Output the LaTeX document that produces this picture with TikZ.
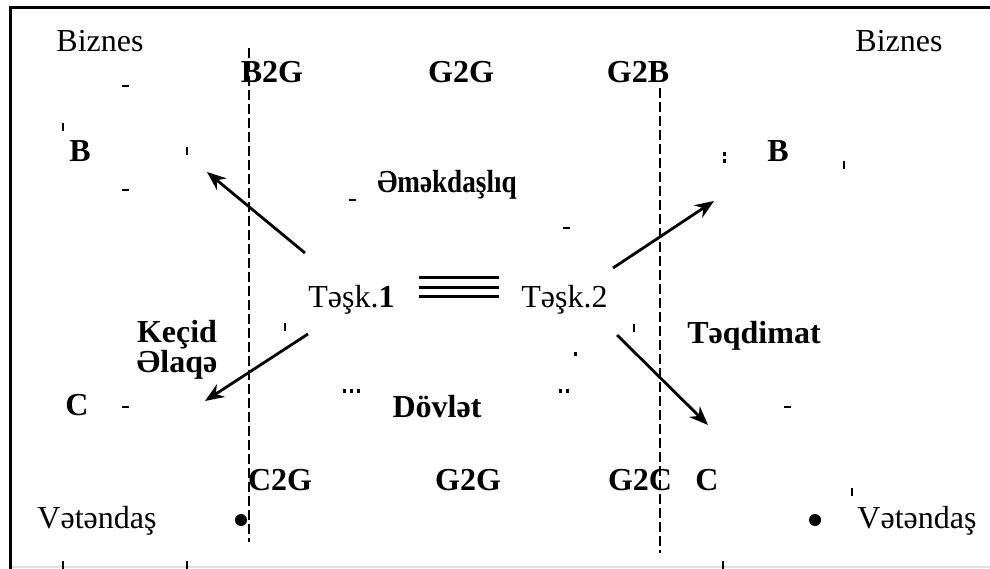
\documentclass[tikz,border=0pt]{standalone}
\usepackage{fontspec}
\setmainfont{Liberation Serif}
\usetikzlibrary{arrows.meta}

\begin{document}
\begin{tikzpicture}[x=1pt,y=-1pt,
  lbl/.style={inner sep=0pt,anchor=base,font=\fontsize{32}{38}\selectfont},
  blbl/.style={lbl,font=\fontsize{32}{38}\selectfont\bfseries},
  arr/.style={-{Stealth[length=19pt,width=15pt]},line width=2.8pt},
  sep/.style={line width=1.5pt,dash pattern=on 10pt off 4pt},
  speck/.style={line width=2.4pt},
  triple/.style={line width=3pt}]
\useasboundingbox (0,0) rectangle (990,569);
\draw[black!12,line width=1.5pt] (10,567) -- (990,567);
\draw[line width=3pt] (10,569) -- (10,8) -- (990,8);

\node[lbl] (biznesL) at (100,52) {Biznes};
\node[lbl] (biznesR) at (899,52) {Biznes};
\node[blbl] (b2g) at (272,83) {B2G};
\node[blbl] (g2gT) at (461,83) {G2G};
\node[blbl] (g2b) at (638,83) {G2B};
\node[blbl] (bL) at (80,162) {B};
\node[blbl] (bR) at (778,162) {B};
\node[blbl] (emek) at (447,193) {\scalebox{0.85}[1]{Əməkdaşlıq}};
\node[lbl] (task1) at (351.5,307) {Təşk.\textbf{1}};
\node[lbl] (task2) at (564.5,307) {Təşk.2};
\node[blbl] (kecid) at (177,342) {Keçid};
\node[blbl] (elaqe) at (177,372) {Əlaqə};
\node[blbl] (teqdimat) at (754,343) {Təqdimat};
\node[blbl] (cL) at (77,415) {C};
\node[blbl] (dovlet) at (437,417) {Dövlət};
\node[blbl] (c2g) at (280,490) {C2G};
\node[blbl] (g2gB) at (468,490) {G2G};
\node[blbl] (g2c) at (640,490) {G2C};
\node[blbl] (cR) at (707,490) {C};
\node[lbl] (vetL) at (97,528) {Vətəndaş};
\node[lbl] (vetR) at (917,528) {Vətəndaş};

\draw[sep] (249,48) -- (249,542);
\draw[sep] (660,88) -- (660,553);

\coordinate (fromT1up) at (305,253);
\coordinate (toB1) at (207,172);
\coordinate (fromT1dn) at (308,334);
\coordinate (toC1) at (205,401);
\coordinate (fromT2up) at (613,268);
\coordinate (toB2) at (714,201);
\coordinate (fromT2dn) at (617,335);
\coordinate (toC2) at (708,425);
\draw[arr] (fromT1up) -- (toB1);
\draw[arr] (fromT1dn) -- (toC1);
\draw[arr] (fromT2up) -- (toB2);
\draw[arr] (fromT2dn) -- (toC2);

\coordinate (eqL) at (419,287);
\coordinate (eqR) at (499,287);
\foreach \dy in {-9.5,0,9.5}
  \draw[triple] ([yshift=\dy pt]eqL) -- ([yshift=\dy pt]eqR);

\fill (241,520) circle (6);
\fill (815,520) circle (6);

\foreach \x/\y in {125/86,125/190,352/200,566/228,125/407,787/407}
  \draw[speck] (\x-3.5,\y) -- (\x+3.5,\y);
\foreach \x/\y in {63/127,187/151,844/165,285/327,634/328,852/492}
  \draw[speck] (\x,\y-4) -- (\x,\y+4);
\foreach \x in {63,187,723}
  \draw[speck] (\x,561) -- (\x,569);
\foreach \x/\y in {724/154,724/161,575/354,344/391,351/391,358/391,560/391,567/391}
  \fill (\x-1.5,\y-1.7) rectangle (\x+1.5,\y+1.7);
\end{tikzpicture}
\end{document}
